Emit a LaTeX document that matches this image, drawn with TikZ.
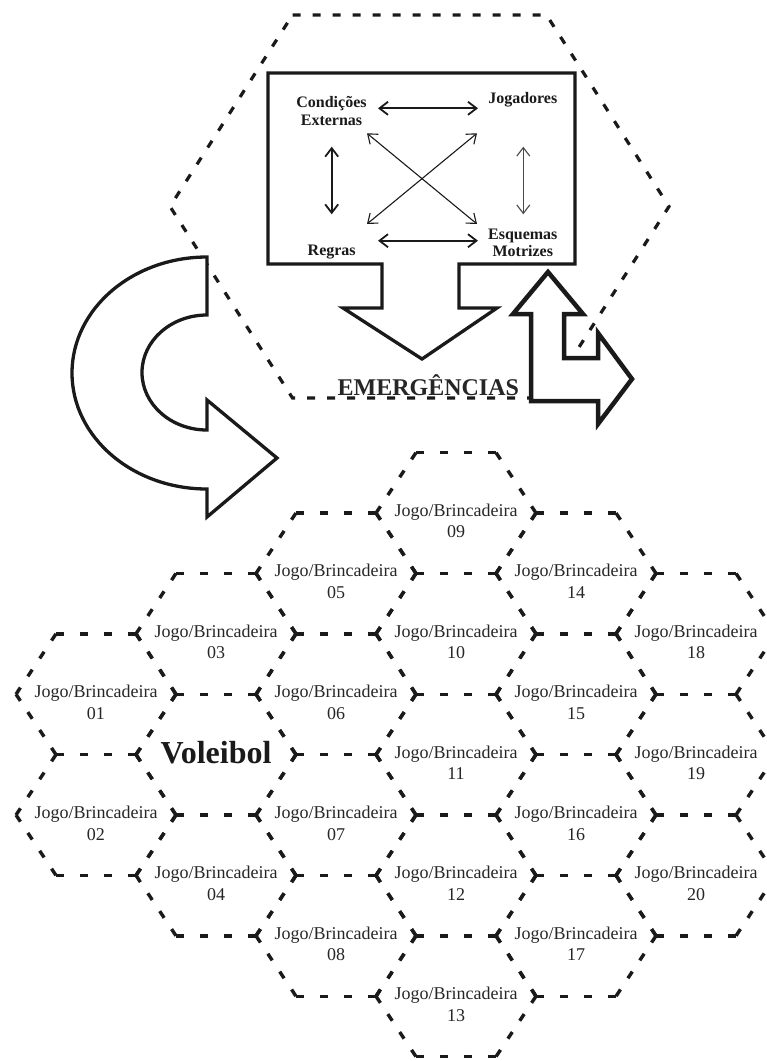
\documentclass[tikz,border=0pt]{standalone}
\usepackage{fontspec}
\setmainfont{Liberation Serif}
\usetikzlibrary{arrows.meta}

\definecolor{ink}{HTML}{1A1A1A}
\definecolor{txt}{HTML}{262626}

% honeycomb geometry (in pt, y grows downwards)
\def\hexW{80}    % centre to side vertex
\def\hexA{40}    % half of a flat edge
\def\hexH{60.4}  % centre to flat edge
\def\dashL{8}    % dash length
\pgfmathsetmacro{\slantL}{veclen(\hexW-\hexA,\hexH)}
\pgfmathsetmacro{\sgap}{(\slantL-4*\dashL)/3}
\pgfmathsetmacro{\hgap}{(2*\hexA-4*\dashL)/3}

% one cell of the honeycomb: column, row, name of its centre
\newcommand{\hexframe}[3]{%
  \pgfmathsetmacro{\hcx}{96+120*#1}%
  \pgfmathsetmacro{\hcy}{513+\hexH*#2}%
  \coordinate (#3) at (\hcx,\hcy);
  \draw[hedge] (\hcx-\hexA,\hcy-\hexH) -- (\hcx+\hexA,\hcy-\hexH);
  \draw[hedge] (\hcx-\hexA,\hcy+\hexH) -- (\hcx+\hexA,\hcy+\hexH);
  \draw[sedge] (\hcx-\hexW,\hcy) -- (\hcx-\hexA,\hcy-\hexH);
  \draw[sedge] (\hcx-\hexW,\hcy) -- (\hcx-\hexA,\hcy+\hexH);
  \draw[sedge] (\hcx+\hexW,\hcy) -- (\hcx+\hexA,\hcy-\hexH);
  \draw[sedge] (\hcx+\hexW,\hcy) -- (\hcx+\hexA,\hcy+\hexH);
}

\begin{document}
\begin{tikzpicture}[x=1pt,y=-1pt,
  hedge/.style={draw=ink,line width=3.4pt,dash pattern=on \dashL pt off \hgap pt},
  sedge/.style={draw=ink,line width=3.4pt,dash pattern=on \dashL pt off \sgap pt},
  framedash/.style={draw=ink,line width=3.2pt,dash pattern=on 8pt off 12pt},
  outline/.style={draw=ink,fill=white,line width=3.3pt,line join=miter},
  celltext/.style={text=txt,font=\fontsize{18}{21.6}\selectfont,align=center,inner sep=0pt},
  boxtext/.style={text=ink,font=\bfseries\fontsize{16}{17.5}\selectfont,align=center,inner sep=0pt},
  link/.style={draw=ink,line width=1.8pt,{Straight Barb[length=8.5pt,width=13pt]}-{Straight Barb[length=8.5pt,width=13pt]}},
  thinlink/.style={link,line width=1.1pt},
]
\useasboundingbox (0,0) rectangle (767,1061);
\clip (0,0) rectangle (767,1061);

% ---- honeycomb of games ----
\foreach \c/\k/\n in {0/3/01,0/5/02,1/2/03,1/4/vb,1/6/04,
                      2/1/05,2/3/06,2/5/07,2/7/08,
                      3/0/09,3/2/10,3/4/11,3/6/12,3/8/13,
                      4/1/14,4/3/15,4/5/16,4/7/17,
                      5/2/18,5/4/19,5/6/20}{
  \hexframe{\c}{\k}{h\n}
}
\foreach \n in {01,02,03,04,05,06,07,08,09,10,11,12,13,14,15,16,17,18,19,20}{
  \node[celltext,anchor=north] (j\n) at ([yshift=9.3pt]h\n) {Jogo/Brincadeira\\\n};
}
\node[text=ink,font=\bfseries\fontsize{32}{38}\selectfont,anchor=base,inner sep=0pt]
  (volei) at ([yshift=-9pt]hvb) {Voleibol};

% ---- upper dashed hexagon ----
\draw[framedash] (292.5,15) -- (546.5,15) -- (669,206.5) -- (546.5,398)
  -- (292.5,398) -- (170,206.5) -- cycle;

% ---- box with the down arrow ----
\draw[outline] (268,73) -- (575,73) -- (575,264) -- (459,264) -- (459,308)
  -- (497,308) -- (422,359) -- (343,308) -- (382,308) -- (382,264)
  -- (268,264) -- cycle;

% ---- L-shaped double arrow ----
\draw[outline,line width=4.5pt] (548,272) -- (583,314) -- (564,314) -- (564,358)
  -- (598,358) -- (598,333) -- (632,379) -- (598,424) -- (598,401)
  -- (531,401) -- (531,314) -- (513,314) -- cycle;

% ---- curved arrow ----
\draw[outline] (207,257) arc[start angle=270,end angle=90,x radius=135,y radius=116]
  -- (207,517) -- (277,458) -- (207,400) -- (207,430)
  arc[start angle=90,end angle=270,x radius=65,y radius=57.5] -- cycle;

\node[text=txt,font=\bfseries\fontsize{24}{28}\selectfont,anchor=base,inner sep=0pt]
  (emerg) at (428.3,395) {EMERGÊNCIAS};

% ---- elements of the game ----
\node[boxtext,anchor=north] (cond) at (331.5,96.3) {Condições\\Externas};
\node[boxtext,anchor=base] (jog) at (522.8,103.3) {Jogadores};
\node[boxtext,anchor=base] (regras) at (331.7,255) {Regras};
\node[boxtext,anchor=north] (esq) at (522.8,228.6) {Esquemas\\Motrizes};

\coordinate (t1) at (378,108.3);   \coordinate (t2) at (478,108.3);
\coordinate (b1) at (378,240.7);   \coordinate (b2) at (478,240.7);
\coordinate (l1) at (331.7,146.7); \coordinate (l2) at (331.7,214.3);
\coordinate (r1) at (523.3,146.7); \coordinate (r2) at (523.3,214.3);
\coordinate (d1) at (367,133.3);   \coordinate (d2) at (477,224);
\coordinate (e1) at (477,133.3);   \coordinate (e2) at (367,224);

\draw[link] (t1) -- (t2);
\draw[link] (b1) -- (b2);
\draw[link] (l1) -- (l2);
\draw[thinlink,draw=ink!80] (r1) -- (r2);
\draw[thinlink] (d1) -- (d2);
\draw[thinlink] (e1) -- (e2);
\end{tikzpicture}
\end{document}
